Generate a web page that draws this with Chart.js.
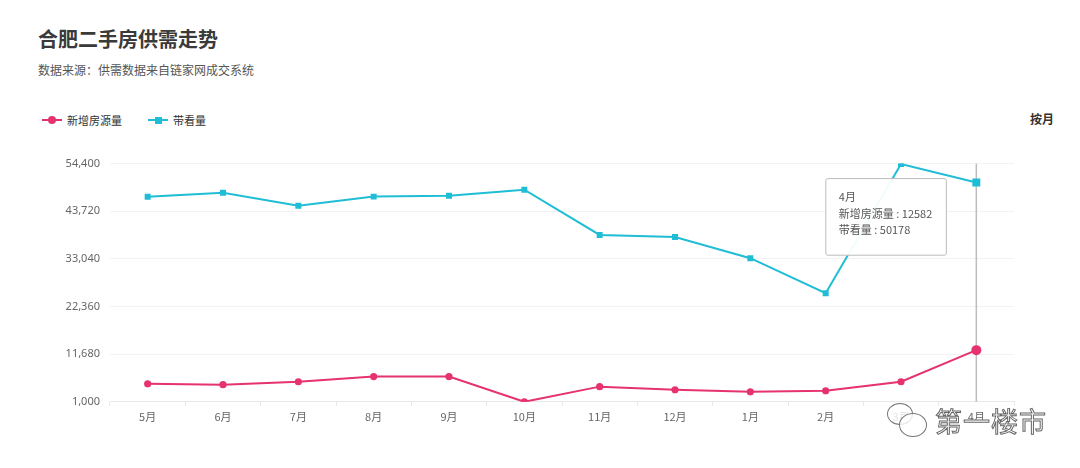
<!DOCTYPE html>
<html lang="zh">
<head>
  <meta charset="UTF-8">
  <title>合肥二手房供需走势</title>
  <script src="https://cdn.jsdelivr.net/npm/chart.js"></script>
  <style>
    body { margin: 0; width: 1080px; height: 468px; background: #fff; position: relative; overflow: hidden;
           font-family: "Noto Sans CJK SC", "Noto Sans", sans-serif; }
    .title { position: absolute; left: 38px; top: 24px; font-size: 20px; font-weight: bold; color: #3a3a3a; }
    .sub { position: absolute; left: 38px; top: 61px; font-size: 12px; color: #555; }
    .legend { position: absolute; left: 42px; top: 112px; font-size: 11px; color: #333; display: flex; gap: 26px; }
    .legend span { display: flex; align-items: center; }
    .mk { position: relative; width: 20px; height: 8px; margin-right: 5px; }
    .mk::before { content: ""; position: absolute; left: 0; right: 0; top: 3px; height: 2px; }
    .mk i { position: absolute; left: 6px; top: 0; width: 8px; height: 8px; }
    .pink::before { background: #e6326e; } .pink i { background: #e6326e; border-radius: 50%; }
    .cyan::before { background: #1fbdd6; } .cyan i { background: #1fbdd6; left: 6.5px; top: 0.5px; width: 7px; height: 7px; }
    .unit { position: absolute; left: 1030px; top: 110px; font-size: 12px; font-weight: bold; color: #333; }
    #wrap { position: absolute; left: 0; top: 147px; width: 1080px; height: 280px; }
    .wm { position: absolute; left: 935px; top: 401px; font-size: 27px; color: #fff; -webkit-text-stroke: 1px #666;
          letter-spacing: 1px; }
    .bub { position: absolute; border: 1.5px solid #777; border-radius: 50%; background: rgba(255,255,255,0.8); }
  </style>
</head>
<body>
  <div class="title">合肥二手房供需走势</div>
  <div class="sub">数据来源：供需数据来自链家网成交系统</div>
  <div class="legend">
    <span><b class="mk pink"><i></i></b>新增房源量</span>
    <span><b class="mk cyan"><i></i></b>带看量</span>
  </div>
  <div class="unit">按月</div>
  <div id="wrap"><canvas id="chart"></canvas></div>
  <div class="bub" style="left:887px;top:403px;width:24px;height:20px;"></div>
  <div class="bub" style="left:899px;top:413px;width:26px;height:22px;"></div>
  <div class="wm">第一楼市</div>

  <script>
    const months = ['5月', '6月', '7月', '8月', '9月', '10月', '11月', '12月', '1月', '2月', '3月', '4月'];
    const newListings = [5050, 4850, 5500, 6650, 6650, 1000, 4400, 3700, 3250, 3480, 5500, 12582];
    const viewings = [46950, 47850, 44950, 47000, 47200, 48550, 38400, 37950, 33200, 25350, 54300, 50178];
    const yTicks = [1000, 11680, 22360, 33040, 43720, 54400];
    const last = months.length - 1;

    const pink = '#e6326e', cyan = '#1fbdd6';

    Chart.Tooltip.positioners.fixedLeft = function (elements) {
      if (!elements.length) return false;
      const ch = this.chart;
      return { x: ch.scales.x.getPixelForValue(last) - 32, y: ch.chartArea.top + 15 };
    };

    const guideLine = {
      id: 'guideLine',
      beforeDatasetsDraw(ch) {
        const x = ch.scales.x.getPixelForValue(last);
        const c = ch.ctx;
        c.save();
        c.strokeStyle = '#bdbdbd';
        c.lineWidth = 1.5;
        c.beginPath();
        c.moveTo(x, ch.chartArea.top);
        c.lineTo(x, ch.chartArea.bottom);
        c.stroke();
        c.restore();
      }
    };

    const chart = new Chart(document.getElementById('chart'), {
      type: 'line',
      data: {
        labels: months,
        datasets: [
          { label: '新增房源量', data: newListings, borderColor: pink, backgroundColor: pink,
            borderWidth: 2, pointStyle: 'circle', pointRadius: c => c.dataIndex === last ? 4 : 2.6,
            tension: 0 },
          { label: '带看量', data: viewings, borderColor: cyan, backgroundColor: cyan,
            borderWidth: 2, pointStyle: 'rect', pointRadius: c => c.dataIndex === last ? 4.2 : 2.8,
            tension: 0 }
        ]
      },
      options: {
        responsive: true,
        maintainAspectRatio: false,
        animation: false,
        events: [],
        layout: { padding: { top: 8, right: 66, left: 0, bottom: 0 } },
        plugins: {
          legend: { display: false },
          tooltip: {
            enabled: true,
            mode: 'index',
            intersect: false,
            position: 'fixedLeft',
            xAlign: 'right',
            yAlign: 'top',
            caretSize: 0,
            caretPadding: 0,
            cornerRadius: 2,
            backgroundColor: 'rgba(255,255,255,0.95)',
            borderColor: '#bbb',
            borderWidth: 1,
            titleColor: '#555',
            bodyColor: '#555',
            titleFont: { family: 'Noto Sans CJK SC', size: 11, weight: 'normal' },
            bodyFont: { family: 'Noto Sans CJK SC', size: 11 },
            titleMarginBottom: 3,
            bodySpacing: 3,
            padding: { top: 12, bottom: 19, left: 13, right: 14 },
            displayColors: false,
            callbacks: { label: c => c.dataset.label + ' : ' + c.raw }
          }
        },
        scales: {
          x: {
            offset: true,
            grid: { display: true, drawOnChartArea: false, offset: true, tickLength: 4, color: '#e8e8e8' },
            border: { color: '#e8e8e8' },
            ticks: { color: '#666', font: { family: 'Noto Sans CJK SC', size: 11 }, padding: 4 }
          },
          y: {
            min: 1000,
            max: 54400,
            afterBuildTicks: s => { s.ticks = yTicks.map(v => ({ value: v })); },
            afterFit: s => { s.width = 110; },
            grid: { color: '#f2f2f2', drawTicks: false },
            border: { display: false },
            ticks: { color: '#666', font: { family: 'Noto Sans', size: 11 }, padding: 10,
                     callback: v => v.toLocaleString('en-US') }
          }
        }
      },
      plugins: [guideLine]
    });

    chart.tooltip.setActiveElements(
      [{ datasetIndex: 0, index: last }, { datasetIndex: 1, index: last }],
      { x: 0, y: 0 }
    );
    chart.update();
  </script>
</body>
</html>
